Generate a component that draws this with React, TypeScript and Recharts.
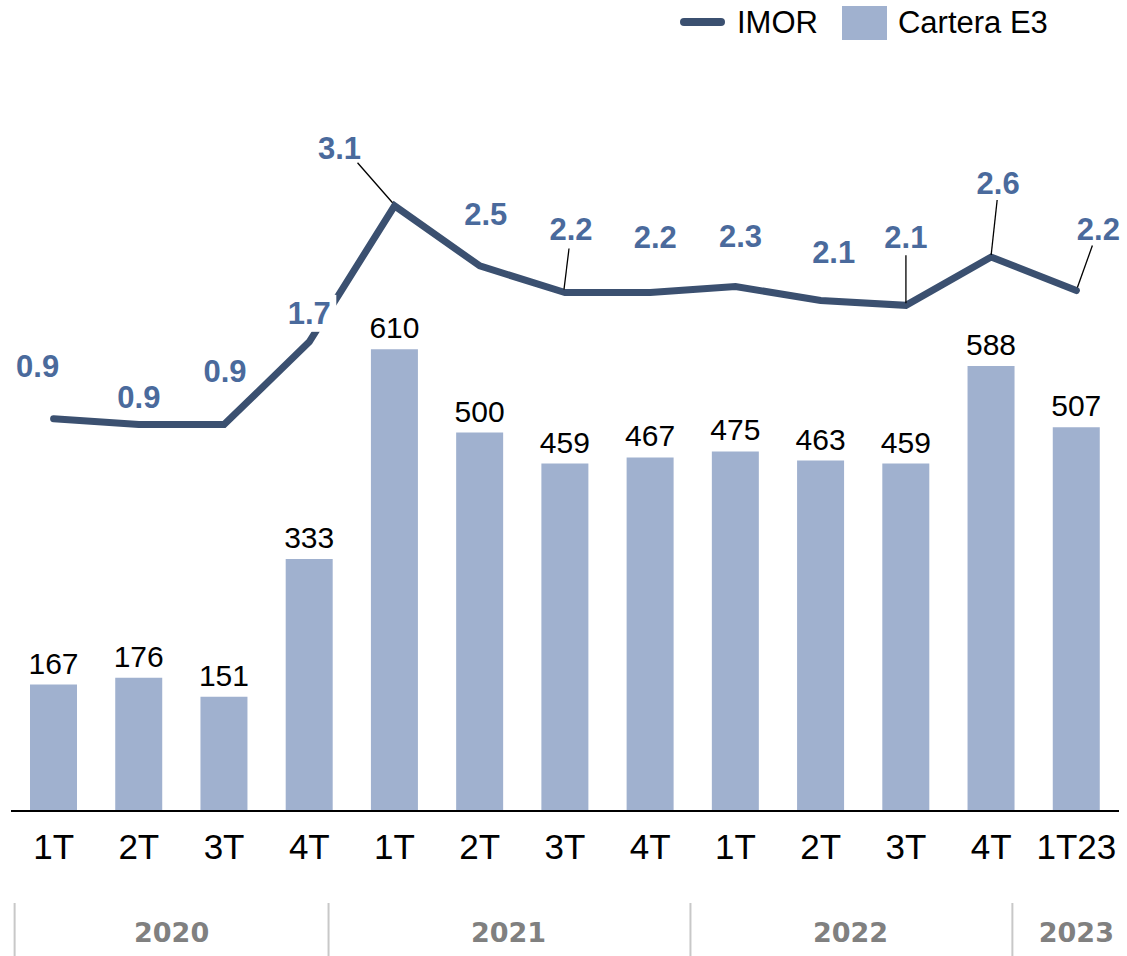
import React from 'react'
import { ComposedChart, Bar, Line, XAxis, YAxis, LabelList } from 'recharts'

const QUARTERS = ['1T', '2T', '3T', '4T', '1T', '2T', '3T', '4T', '1T', '2T', '3T', '4T', '1T23']
const CARTERA_E3 = [167, 176, 151, 333, 610, 500, 459, 467, 475, 463, 459, 588, 507]
const IMOR = [0.94, 0.88, 0.88, 1.72, 3.1, 2.49, 2.22, 2.22, 2.28, 2.14, 2.09, 2.58, 2.24]
const YEARS = ['2020', '2021', '2022', '2023']
const YEAR_START = [0, 4, 8, 12]

const data = QUARTERS.map((quarter, i) => ({ quarter, cartera: CARTERA_E3[i], imor: IMOR[i] }))

// label placement for the IMOR values (offset from the point, optional leader line)
const IMOR_LABEL_POS: { dx: number; dy: number; lead?: [number, number, number, number]; bg?: boolean }[] = [
  { dx: -16, dy: -53 },
  { dx: 0, dy: -28 },
  { dx: 1, dy: -54 },
  { dx: 0, dy: -29, bg: true },
  { dx: -55, dy: -58, lead: [-37, -43, -2, -3] },
  { dx: 6, dy: -52 },
  { dx: 6, dy: -64, lead: [4, -44, -1, -3] },
  { dx: 5, dy: -56 },
  { dx: 5, dy: -51 },
  { dx: 13, dy: -48 },
  { dx: 0, dy: -68, lead: [0, -50, 0, -2] },
  { dx: 7, dy: -74, lead: [6, -57, 0, -2] },
  { dx: 22, dy: -62, lead: [16, -45, 1, -3] },
]

// year band layout, relative to the first quarter of each year
const YEAR_POS = [
  { label: 118, sep: -39 },
  { label: 114, sep: -66 },
  { label: 115, sep: -45 },
  { label: 0, sep: -64 },
]

const FONT = '"Liberation Sans", Arial, sans-serif'
const BAR_COLOR = '#a0b1cf'
const LINE_COLOR = '#3b5070'
const LABEL_BLUE = '#4a6a9c'

function ImorLabel(props: any) {
  const { x, y, value, index } = props
  const pos = IMOR_LABEL_POS[index] || { dx: 0, dy: -40 }
  const cx = x + pos.dx
  const cy = y + pos.dy
  return (
    <g>
      {pos.lead && (
        <line
          x1={x + pos.lead[0]}
          y1={y + pos.lead[1]}
          x2={x + pos.lead[2]}
          y2={y + pos.lead[3]}
          stroke="#000"
          strokeWidth={1.3}
        />
      )}
      {pos.bg && <rect x={cx - 27} y={cy - 18} width={54} height={37} fill="#fff" />}
      <text
        x={cx}
        y={cy + 11}
        textAnchor="middle"
        fontFamily={FONT}
        fontWeight="bold"
        fontSize={31}
        fill={LABEL_BLUE}
      >
        {Number(value).toFixed(1)}
      </text>
    </g>
  )
}

function QuarterTick(props: any) {
  const { x, payload, index } = props
  const g = YEAR_START.indexOf(index)
  return (
    <g>
      <text x={x} y={859} textAnchor="middle" fontFamily={FONT} fontSize={35} fill="#000">
        {payload.value}
      </text>
      {g >= 0 && (
        <g>
          <line
            x1={x + YEAR_POS[g].sep}
            x2={x + YEAR_POS[g].sep}
            y1={903}
            y2={956}
            stroke="#c8c8c8"
            strokeWidth={2}
          />
          <text
            x={x + YEAR_POS[g].label}
            y={942}
            textAnchor="middle"
            fontFamily='"DejaVu Sans", Verdana, sans-serif'
            fontWeight="bold"
            fontSize={27}
            fill="#808080"
          >
            {YEARS[g]}
          </text>
        </g>
      )}
    </g>
  )
}

function ChartLegend() {
  return (
    <div
      style={{
        position: 'absolute',
        top: 0,
        left: 680,
        height: 45,
        display: 'flex',
        alignItems: 'center',
        fontFamily: FONT,
        fontSize: 31,
        color: '#000',
      }}
    >
      <span style={{ width: 45, height: 8, borderRadius: 4, background: LINE_COLOR, marginTop: -2 }} />
      <span style={{ marginLeft: 12 }}>IMOR</span>
      <span style={{ width: 45, height: 34, background: BAR_COLOR, marginLeft: 24 }} />
      <span style={{ marginLeft: 11 }}>Cartera E3</span>
    </div>
  )
}

export default function App() {
  return (
    <div style={{ position: 'absolute', left: 0, top: 0, width: 1127, height: 956, background: '#fff' }}>
      <ComposedChart width={1127} height={956} data={data} margin={{ top: 54, right: 8, bottom: 0, left: 11 }}>
        <XAxis
          dataKey="quarter"
          interval={0}
          height={145}
          tickLine={false}
          axisLine={{ stroke: '#000', strokeWidth: 2 }}
          tick={<QuarterTick />}
        />
        <YAxis yAxisId="bar" hide domain={[0, 1000]} />
        <YAxis yAxisId="imor" hide domain={[-3.04, 4.64]} allowDataOverflow />
        <Bar yAxisId="bar" dataKey="cartera" name="Cartera E3" fill={BAR_COLOR} barSize={47} isAnimationActive={false}>
          <LabelList dataKey="cartera" position="top" offset={11} fontFamily={FONT} fontSize={30} fill="#000" />
        </Bar>
        <Line
          yAxisId="imor"
          type="linear"
          dataKey="imor"
          name="IMOR"
          stroke={LINE_COLOR}
          strokeWidth={7}
          strokeLinecap="round"
          dot={false}
          activeDot={false}
          isAnimationActive={false}
        >
          <LabelList dataKey="imor" content={<ImorLabel />} />
        </Line>
      </ComposedChart>
      <ChartLegend />
    </div>
  )
}
